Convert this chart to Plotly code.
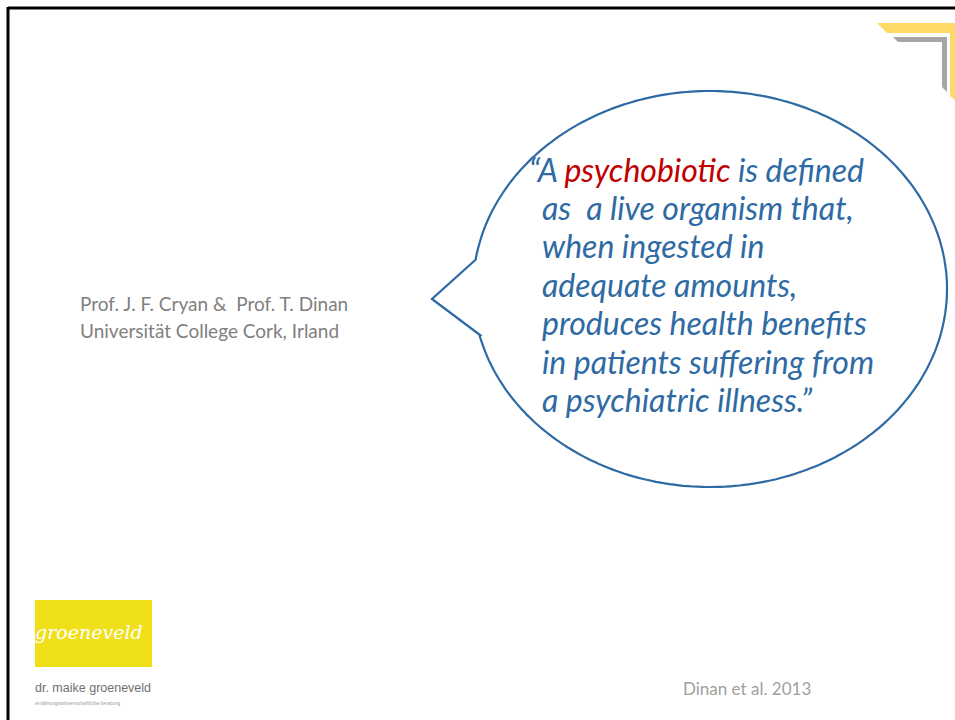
import numpy as np
import plotly.graph_objects as go

W, H = 955, 720

quote_lines = [
    "“A <span style='color:#c00000'>psychobiotic</span> is defined",
    "as  a live organism that,",
    "when ingested in",
    "adequate amounts,",
    "produces health benefits",
    "in patients suffering from",
    "a psychiatric illness.”",
]
author_lines = ["Prof. J. F. Cryan &  Prof. T. Dinan", "Universität College Cork, Irland"]
citation = "Dinan et al. 2013"
logo_word = "groeneveld"
logo_name = "dr. maike groeneveld"
logo_sub = "ernährungswissenschaftliche beratung"

BLUE = "#2e6aa3"
GRAY = "#808080"

fig = go.Figure()
fig.add_trace(go.Scatter(x=[0], y=[0], mode="markers", marker=dict(opacity=0), hoverinfo="skip", showlegend=False))

shapes = []
# frame
shapes.append(dict(type="line", x0=8, y0=8, x1=W + 5, y1=8, line=dict(color="black", width=3)))
shapes.append(dict(type="line", x0=8, y0=7, x1=8, y1=H + 5, line=dict(color="black", width=3)))

# corner decoration
shapes.append(dict(type="path", path="M 877 23 L 960 23 L 960 104 L 950 96 L 950 33 L 887 33 Z",
                   fillcolor="#ffd966", line=dict(width=0)))
shapes.append(dict(type="path", path="M 893 37 L 947 37 L 947 92 L 942 87 L 942 42 L 898 42 Z",
                   fillcolor="#a6a6a6", line=dict(width=0)))

# speech bubble
cx, cy, a, b = 710, 289, 237, 198
tail_top, tip, tail_bot = (477, 260), (432, 299), (480, 335)
t1 = np.arctan2((tail_top[1] - cy) / b, (tail_top[0] - cx) / a)
t2 = np.arctan2((tail_bot[1] - cy) / b, (tail_bot[0] - cx) / a)
t2 = t2 % (2 * np.pi)
t1 = t1 % (2 * np.pi) - 2 * np.pi
ts = np.linspace(t2, t1, 300)
pts = [(cx + a * np.cos(t), cy + b * np.sin(t)) for t in ts]
path = "M {:.1f} {:.1f} ".format(*tip) + "L {:.1f} {:.1f} ".format(*tail_bot)
path += " ".join("L {:.1f} {:.1f}".format(x, y) for x, y in pts)
path += " L {:.1f} {:.1f} Z".format(*tip)
shapes.append(dict(type="path", path=path, fillcolor="white", line=dict(color=BLUE, width=2.2)))

# logo box
shapes.append(dict(type="rect", x0=35, y0=600, x1=152, y1=667, fillcolor="#efe01a", line=dict(width=0)))

ann = []
y0, dy = 169, 38.4
for i, t in enumerate(quote_lines):
    ann.append(dict(x=527 if i == 0 else 540, y=y0 + i * dy, text="<i>" + t + "</i>",
                    xanchor="left", yanchor="middle", showarrow=False,
                    font=dict(family="Lato", size=32, color=BLUE)))
for i, t in enumerate(author_lines):
    ann.append(dict(x=78, y=303 + i * 27, text=t, xanchor="left", yanchor="middle", showarrow=False,
                    font=dict(family="Lato", size=19, color=GRAY)))
ann.append(dict(x=681, y=688, text=citation, xanchor="left", yanchor="middle", showarrow=False,
                font=dict(family="Lato", size=17, color="#a0a0a0")))
ann.append(dict(x=89, y=632, text="<i>" + logo_word + "</i>", xanchor="center", yanchor="middle", showarrow=False,
                font=dict(family="DejaVu Serif", size=19, color="white")))
ann.append(dict(x=33, y=688, text=logo_name, xanchor="left", yanchor="middle", showarrow=False,
                font=dict(family="Liberation Sans", size=12.5, color="#707070")))
ann.append(dict(x=33, y=703, text=logo_sub, xanchor="left", yanchor="middle", showarrow=False,
                font=dict(family="Liberation Sans", size=5, color="#a0a0a0")))

fig.update_layout(
    width=W, height=H, margin=dict(l=0, r=0, t=0, b=0),
    paper_bgcolor="white", plot_bgcolor="white",
    xaxis=dict(range=[0, W], visible=False, fixedrange=True),
    yaxis=dict(range=[H, 0], visible=False, fixedrange=True),
    shapes=shapes, annotations=ann, showlegend=False,
)
fig.write_html("out.html", config={"displayModeBar": False},
               post_script="document.body.style.margin='0';document.body.style.overflow='hidden';")
